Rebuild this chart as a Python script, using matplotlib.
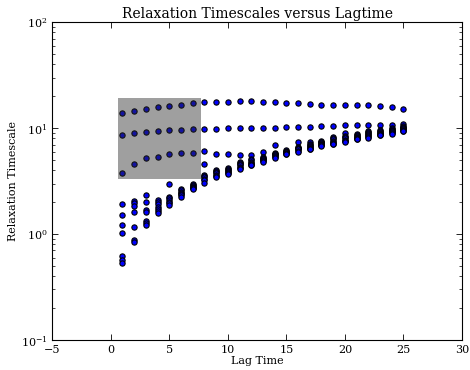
"""Relaxation timescales vs lag time (implied timescales plot, MATLAB-style)."""

import matplotlib

matplotlib.use("Agg")
import matplotlib.pyplot as plt
from matplotlib.patches import Rectangle
from matplotlib.ticker import LogLocator, NullFormatter, FixedLocator

plt.rcParams["font.family"] = ["DejaVu Serif"]
plt.rcParams["mathtext.fontset"] = "dejavuserif"

# lag times 1..25
LAG = list(range(1, 26))

# ten slowest timescales per lag time
TS1 = [13.8, 14.5, 15.1, 15.7, 16.2, 16.5, 17.2, 17.5, 17.5, 17.6, 18.2, 18.0, 17.7,
       17.6, 17.2, 17.1, 16.8, 16.7, 16.5, 16.5, 16.5, 16.4, 16.1, 15.7, 15.2]
TS2 = [8.7, 9.04, 9.23, 9.44, 9.58, 9.64, 9.79, 9.86, 9.86, 9.93, 10.0, 10.07, 10.14,
       10.14, 10.2, 10.28, 10.28, 10.44, 10.44, 10.6, 10.6, 10.6, 10.7, 10.8, 10.9]
TS3 = [3.74, 4.57, 5.18, 5.36, 5.65, 5.85, 5.85, 6.07, 5.65, 5.65, 5.52, 5.55, 5.9,
       6.92, 6.2, 7.33, 7.43, 7.59, 8.28, 9.04, 8.9, 9.44, 9.58, 9.93, 10.4]
TS4 = [1.92, 2.05, 2.32, 2.10, 2.99, 2.66, 2.95, 4.57, 4.02, 4.22, 4.81, 5.07, 5.36,
       5.85, 6.1, 6.67, 7.1, 7.45, 8.0, 8.4, 8.6, 9.2, 9.4, 9.8, 10.28]
TS5 = [1.53, 1.95, 1.99, 2.0, 2.25, 2.58, 2.90, 3.61, 3.9, 4.12, 4.7, 4.95, 5.25,
       5.75, 6.0, 6.55, 6.9, 7.35, 7.82, 8.2, 8.45, 9.0, 9.25, 9.6, 10.1]
TS6 = [1.22, 1.85, 1.67, 1.92, 2.18, 2.51, 2.85, 3.5, 3.82, 4.02, 4.57, 4.81, 5.15,
       5.65, 5.95, 6.45, 6.76, 7.26, 7.6, 8.0, 8.28, 8.8, 9.04, 9.44, 9.93]
TS7 = [1.03, 1.60, 1.62, 1.82, 2.10, 2.45, 2.80, 3.43, 3.74, 3.95, 4.45, 4.7, 5.07,
       5.56, 5.9, 6.35, 6.6, 7.1, 7.4, 7.8, 8.15, 8.6, 8.9, 9.3, 9.8]
TS8 = [0.62, 1.16, 1.33, 1.72, 2.02, 2.39, 2.75, 3.33, 3.6, 3.85, 4.32, 4.6, 4.95,
       5.45, 5.8, 6.29, 6.5, 7.0, 7.25, 7.6, 8.0, 8.4, 8.75, 9.15, 9.65]
TS9 = [0.57, 0.87, 1.28, 1.65, 1.95, 2.32, 2.70, 3.23, 3.5, 3.75, 4.2, 4.5, 4.88,
       5.3, 5.75, 6.1, 6.4, 6.9, 7.15, 7.5, 7.9, 8.25, 8.65, 9.0, 9.5]
TS10 = [0.53, 0.85, 1.22, 1.57, 1.90, 2.25, 2.66, 3.05, 3.43, 3.66, 4.10, 4.45, 4.81,
        5.18, 5.69, 5.97, 6.29, 6.8, 7.06, 7.43, 7.82, 8.1, 8.6, 8.9, 9.4]
SERIES = [TS1, TS2, TS3, TS4, TS5, TS6, TS7, TS8, TS9, TS10]

# highlighted window (lag, timescale)
BOX_X = (0.6, 7.72)
BOX_Y = (3.3, 19.3)


def main() -> None:
    fig = plt.figure(figsize=(4.7, 3.7), dpi=100)
    ax = fig.add_axes([0.111, 0.081, 0.872, 0.859])

    for ts in SERIES:
        ax.plot(LAG, ts, "o", color="blue", markeredgecolor="black",
                markeredgewidth=0.8, markersize=3.8, zorder=2)

    # grey window drawn over the points (translucent, points show through darker)
    ax.add_patch(Rectangle((BOX_X[0], BOX_Y[0]), BOX_X[1] - BOX_X[0], BOX_Y[1] - BOX_Y[0],
                           facecolor="0.17", edgecolor="none", alpha=0.45, zorder=3))

    ax.set_yscale("log")
    ax.set_xlim(-5, 30)
    ax.set_ylim(0.1, 100)
    ax.xaxis.set_major_locator(FixedLocator(range(-5, 31, 5)))
    ax.yaxis.set_major_locator(LogLocator(base=10, numticks=10))
    ax.yaxis.set_minor_locator(LogLocator(base=10, subs=range(2, 10), numticks=10))
    ax.yaxis.set_minor_formatter(NullFormatter())

    ax.tick_params(which="both", direction="in", top=True, right=True, labelsize=8)
    ax.tick_params(which="major", length=4, width=0.6)
    ax.tick_params(which="minor", length=2, width=0.5)
    for sp in ax.spines.values():
        sp.set_linewidth(0.8)

    ax.set_title("Relaxation Timescales versus Lagtime", fontsize=10, pad=3)
    ax.set_xlabel("Lag Time", fontsize=8, labelpad=1)
    ax.set_ylabel("Relaxation Timescale", fontsize=8, labelpad=2)

    fig.savefig("out.png", dpi=100)
    plt.close(fig)


if __name__ == "__main__":
    main()
